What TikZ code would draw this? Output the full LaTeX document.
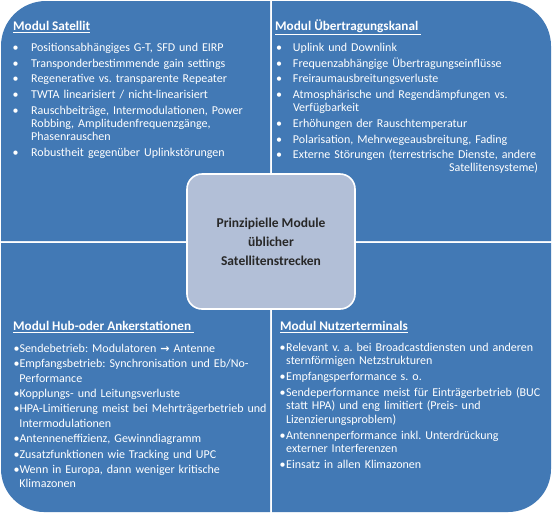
\documentclass[tikz,border=0pt]{standalone}
\usepackage{fontspec}
\setmainfont{Carlito}
\newfontfamily\arrowfont{DejaVu Sans}
\usepackage{tikz}
\frenchspacing

\definecolor{modulblue}{RGB}{66,121,181}
\definecolor{kernblue}{RGB}{178,191,215}
\definecolor{kerntext}{RGB}{40,40,40}

\newlength\bulletwd
\newlength\itemgap
% one bullet point with hanging indent
\newcommand{\pkt}[1]{\par\hangindent=\bulletwd\hangafter=1\noindent\makebox[\bulletwd][l]{•}#1\par\vspace{\itemgap}}

\tikzset{
	quadrant/.style={fill=modulblue},
	bullets/.style={execute at begin node={\setlength\bulletwd{#1}}},
	gap/.style={execute at begin node={\setlength\itemgap{#1}}},
	modtitle/.style={anchor=base west, inner sep=0pt, text=white,
		font=\fontsize{13.2}{15}\selectfont\bfseries},
	toplist/.style={anchor=base west, inner sep=0pt, text=white,
		text width=280pt, align=left, gap=2.7pt,
		font=\fontsize{12}{13}\selectfont},
	bottomlist/.style={anchor=base west, inner sep=0pt, text=white,
		text width=280pt, align=left, gap=0.8pt,
		font=\fontsize{12}{14.5}\selectfont},
	kern/.style={draw=white, line width=1.6pt, fill=kernblue,
		rounded corners=15pt, minimum width=168pt, minimum height=135pt,
		text=kerntext, align=center, inner sep=0pt,
		font=\fontsize{13.5}{19}\selectfont\bfseries}
}

\begin{document}
\begin{tikzpicture}[x=1pt, y=1pt, line join=round]
	\useasboundingbox (0,0) rectangle (553,-515);
	% four quadrants
	\fill[quadrant] (1,-241) -- (1,-46) arc[start angle=180, end angle=90, radius=45] -- (270,-1) -- (270,-241) -- cycle;
	\fill[quadrant] (272,-1) -- (506,-1) arc[start angle=90, end angle=0, radius=45] -- (551,-241) -- (272,-241) -- cycle;
	\fill[quadrant] (1,-243) -- (270,-243) -- (270,-512) -- (44,-512) arc[start angle=270, end angle=180, radius=43] -- cycle;
	\fill[quadrant] (272,-243) -- (551,-243) -- (551,-469) arc[start angle=0, end angle=-90, radius=43] -- (272,-512) -- cycle;

	% Modul Satellit
	\node[modtitle] (satT) at (13,-30.5) {\underline{Modul Satellit}};
	\node[toplist, bullets=18.5pt] (satL) at (12.5,-38.5) {%
		\pkt{Positionsabhängiges G-T, SFD und EIRP}
		\pkt{Transponderbestimmende gain settings}
		\pkt{Regenerative vs. transparente Repeater}
		\pkt{TWTA linearisiert / nicht-linearisiert}
		\pkt{Rauschbeiträge, Intermodulationen, Power\newline Robbing, Amplitudenfrequenzgänge,\newline Phasenrauschen}
		\pkt{Robustheit gegenüber Uplinkstörungen}};

	% Modul Uebertragungskanal
	\node[modtitle] (kanT) at (275,-30.5) {\underline{Modul Übertragungskanal\ }};
	\node[toplist, bullets=17pt] (kanL) at (275.8,-38.5) {%
		\pkt{Uplink und Downlink}
		\pkt{Frequenzabhängige Übertragungseinflüsse}
		\pkt{Freiraumausbreitungsverluste}
		\pkt{Atmosphärische und Regendämpfungen vs.\newline Verfügbarkeit}
		\pkt{Erhöhungen der Rauschtemperatur}
		\pkt{Polarisation, Mehrwegeausbreitung, Fading}
		\pkt{Externe Störungen (terrestrische Dienste, andere\newline\makebox[245pt][r]{Satellitensysteme)}}};

	% Modul Hub- oder Ankerstationen
	\node[modtitle] (hubT) at (13,-330.7) {\underline{Modul Hub-oder Ankerstationen\ }};
	\node[bottomlist, bullets=5.8pt] (hubL) at (13.5,-338) {%
		\pkt{Sendebetrieb: Modulatoren {\arrowfont\bfseries\fontsize{11}{11}\selectfont →} Antenne}
		\pkt{Empfangsbetrieb: Synchronisation und Eb/No-\newline Performance}
		\pkt{Kopplungs- und Leitungsverluste}
		\pkt{HPA-Limitierung meist bei Mehrträgerbetrieb und\newline Intermodulationen}
		\pkt{Antenneneffizienz, Gewinndiagramm}
		\pkt{Zusatzfunktionen wie Tracking und UPC}
		\pkt{Wenn in Europa, dann weniger kritische\newline Klimazonen}};

	% Modul Nutzerterminals
	\node[modtitle] (nutT) at (280,-330.7) {\underline{Modul Nutzerterminals}};
	\node[bottomlist, gap=2.7pt, bullets=6.5pt, font=\fontsize{12}{13.3}\selectfont] (nutL) at (279.5,-338) {%
		\pkt{Relevant v. a. bei Broadcastdiensten und anderen\newline sternförmigen Netzstrukturen}
		\pkt{Empfangsperformance s. o.}
		\pkt{Sendeperformance meist für Einträgerbetrieb (BUC\newline statt HPA) und eng limitiert (Preis- und\newline Lizenzierungsproblem)}
		\pkt{Antennenperformance inkl. Unterdrückung\newline externer Interferenzen}
		\pkt{Einsatz in allen Klimazonen}};

	% centre box
	\node[kern] (kern) at (271,-241.5) {Prinzipielle Module\\ üblicher\\ Satellitenstrecken};
\end{tikzpicture}
\end{document}
